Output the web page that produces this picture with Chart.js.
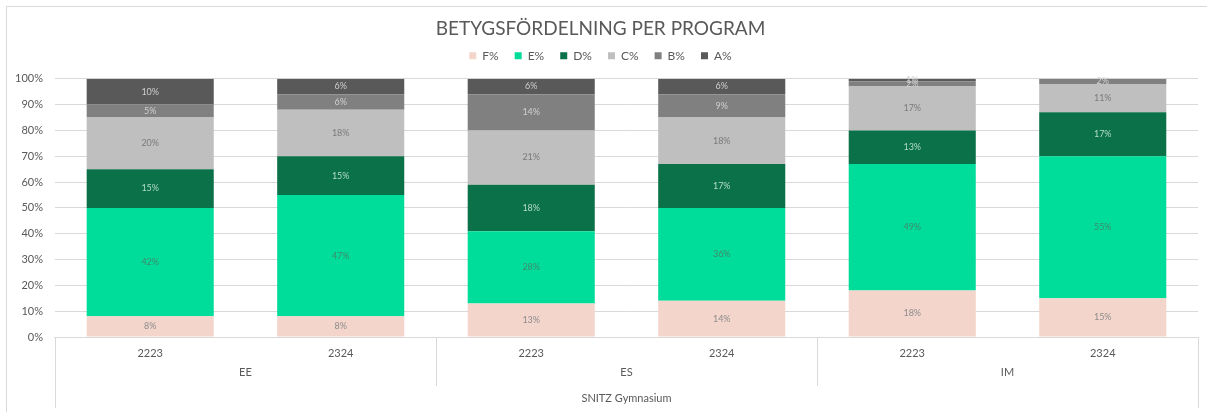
<!DOCTYPE html>
<html>
<head>
<meta charset="utf-8">
<script src="https://cdn.jsdelivr.net/npm/chart.js@4.4.1/dist/chart.umd.min.js"></script>
<style>
  html, body { margin: 0; padding: 0; background: #fff; }
  #wrap { position: relative; width: 1207px; height: 412px; }
  #frame { position: absolute; left: 6px; top: 6px; right: 0; bottom: 0; border-left: 1px solid #d9d9d9; border-top: 1px solid #d9d9d9; }
  canvas { position: absolute; left: 0; top: 0; }
</style>
</head>
<body>
<div id="wrap">
  <div id="frame"></div>
  <canvas id="gradeChart" width="1207" height="412"></canvas>
</div>
<script>
// år per program (x-axelns första nivå)
const years = ['2223', '2324', '2223', '2324', '2223', '2324'];
const programs = ['EE', 'ES', 'IM'];
const schoolName = 'SNITZ Gymnasium';

// andel per betyg, i procent
const fPct = [8, 8, 13, 14, 18, 15];
const ePct = [42, 47, 28, 36, 49, 55];
const dPct = [15, 15, 18, 17, 13, 17];
const cPct = [20, 18, 21, 18, 17, 11];
const bPct = [5, 6, 14, 9, 2, 2];
const aPct = [10, 6, 6, 6, 1, 0];

const yTicks = [0, 10, 20, 30, 40, 50, 60, 70, 80, 90, 100];

const textGray = '#595959';
const lineGray = '#d9d9d9';

// lite extra luft under legenden
const legendGap = {
    id: 'legendGap',
    beforeInit(chart) {
        const fit = chart.legend.fit;
        chart.legend.fit = function() {
            fit.bind(chart.legend)();
            this.height += 7;
        };
    }
};

// etiketter mitt i varje stapelsegment
const segmentLabels = {
    id: 'segmentLabels',
    afterDatasetsDraw(chart) {
        const ctx = chart.ctx;
        ctx.save();
        ctx.font = '9px Lato';
        ctx.textAlign = 'center';
        ctx.textBaseline = 'middle';
        chart.data.datasets.forEach((ds, i) => {
            const meta = chart.getDatasetMeta(i);
            if (meta.hidden) return;
            meta.data.forEach((bar, j) => {
                const v = ds.data[j];
                if (!v) return;
                ctx.fillStyle = ds.labelColor;
                ctx.fillText(v + '%', bar.x, (bar.y + bar.base) / 2);
            });
        });
        ctx.restore();
    }
};

// program- och skolnivå under årtalen
const groupAxis = {
    id: 'groupAxis',
    afterDraw(chart) {
        const ctx = chart.ctx;
        const x = chart.scales.x;
        const area = chart.chartArea;
        const top = area.bottom;
        const bottom = 408;
        ctx.save();
        ctx.strokeStyle = lineGray;
        ctx.lineWidth = 1;
        ctx.beginPath();
        ctx.moveTo(Math.round(area.left) + 0.5, top);
        ctx.lineTo(Math.round(area.left) + 0.5, bottom);
        ctx.moveTo(Math.round(area.right) + 0.5, top);
        ctx.lineTo(Math.round(area.right) + 0.5, bottom);
        for (let g = 1; g < programs.length; g++) {
            const sep = (x.getPixelForValue(g * 2 - 1) + x.getPixelForValue(g * 2)) / 2;
            ctx.moveTo(Math.round(sep) + 0.5, top);
            ctx.lineTo(Math.round(sep) + 0.5, 386);
        }
        ctx.stroke();

        ctx.fillStyle = textGray;
        ctx.font = '11px Lato';
        ctx.textAlign = 'center';
        ctx.textBaseline = 'middle';
        programs.forEach((p, g) => {
            const cx = (x.getPixelForValue(g * 2) + x.getPixelForValue(g * 2 + 1)) / 2;
            ctx.fillText(p, cx, 372);
        });
        ctx.fillText(schoolName, (area.left + area.right) / 2, 398);
        ctx.restore();
    }
};

const ctx = document.getElementById('gradeChart').getContext('2d');

new Chart(ctx, {
    type: 'bar',
    data: {
        labels: years,
        datasets: [
            { label: 'F%', data: fPct, backgroundColor: '#f4d5cc', labelColor: '#8c8c8c' },
            { label: 'E%', data: ePct, backgroundColor: '#00dc9a', labelColor: '#3f8a6c' },
            { label: 'D%', data: dPct, backgroundColor: '#0a7148', labelColor: '#b5dccb' },
            { label: 'C%', data: cPct, backgroundColor: '#bfbfbf', labelColor: '#7a7a7a' },
            { label: 'B%', data: bPct, backgroundColor: '#808080', labelColor: '#d0d0d0' },
            { label: 'A%', data: aPct, backgroundColor: '#595959', labelColor: '#cfcfcf' }
        ]
    },
    options: {
        responsive: false,
        animation: false,
        layout: { padding: { left: 3, right: 9, top: 6, bottom: 0 } },
        datasets: {
            bar: { categoryPercentage: 0.667, barPercentage: 1, borderWidth: 0 }
        },
        plugins: {
            title: {
                display: true,
                text: 'BETYGSFÖRDELNING PER PROGRAM',
                color: textGray,
                font: { family: 'Lato', size: 19, weight: 'normal' },
                padding: { top: 11, bottom: -6 }
            },
            legend: {
                position: 'top',
                labels: {
                    color: textGray,
                    font: { family: 'Lato', size: 12 },
                    boxWidth: 7,
                    boxHeight: 7,
                    padding: 16
                }
            },
            tooltip: { enabled: false }
        },
        scales: {
            x: {
                stacked: true,
                grid: { display: false },
                border: { display: true, color: lineGray },
                ticks: { color: textGray, font: { family: 'Lato', size: 11 }, padding: 2 },
                afterFit(axis) { axis.height = 75; }
            },
            y: {
                stacked: true,
                min: 0,
                max: 100,
                afterBuildTicks(axis) { axis.ticks = yTicks.map(v => ({ value: v })); },
                grid: { color: lineGray, drawTicks: false },
                border: { display: false },
                ticks: {
                    color: textGray,
                    font: { family: 'Lato', size: 11 },
                    padding: 12,
                    callback: v => v + '%'
                }
            }
        }
    },
    plugins: [legendGap, segmentLabels, groupAxis]
});
</script>
</body>
</html>
